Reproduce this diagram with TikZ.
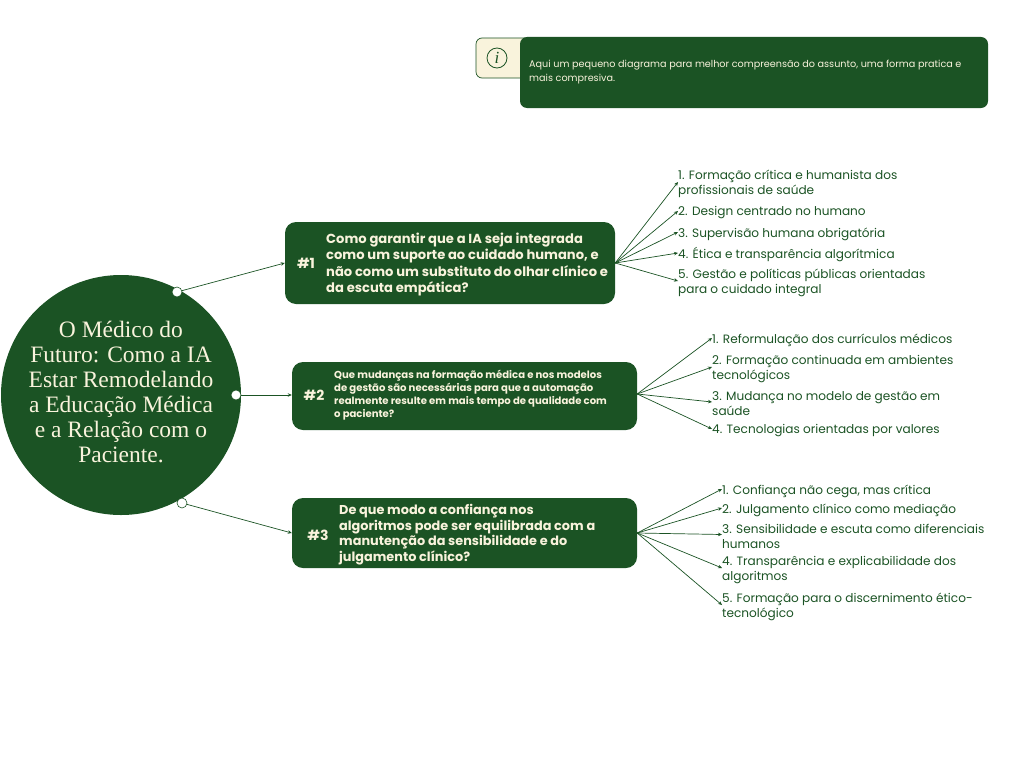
\documentclass[tikz,border=0pt]{standalone}
\usepackage{fontspec}
\setmainfont{Poppins}
\newfontfamily\titlefont{Liberation Serif}
\usetikzlibrary {positioning}
\usetikzlibrary {arrows.meta}
\definecolor{forest}{HTML}{1B5324}
\definecolor{cream}{HTML}{F9F3DC}
\tikzset{
    questionbox/.style={fill=forest, rounded corners=11pt, minimum height=#1, inner sep=0pt},
    questiontext/.style={text=cream, align=left, anchor=west, inner sep=0pt, font=\bfseries\fontsize{13.1}{16.5}\selectfont},
    tagtext/.style={text=cream, anchor=center, inner sep=0pt, font=\bfseries\fontsize{14}{17}\selectfont},
    leaf/.style={text=forest, align=left, anchor=west, inner sep=0pt, font=\fontsize{12.1}{15}\selectfont},
    dot/.style={circle, fill=white, draw=forest, line width=.6pt, minimum size=10pt, inner sep=0pt},
    link/.style={draw=forest, line width=.7pt, -{Stealth[length=4pt,width=3.5pt]}}
}
\begin{document}
\begin{tikzpicture}[x=1pt, y=-1pt]
    \useasboundingbox (0,0) rectangle (1024,768);

    % info note
    \node (notetab) [draw=forest, fill=cream, rounded corners=6pt, line width=.7pt, minimum width=60pt, minimum height=40pt, inner sep=0pt] at (506,58) {};
    \node (notebox) [fill=forest, rounded corners=7pt, minimum width=468pt, minimum height=71pt, inner sep=0pt] at (754,72.5) {};
    \node (noteicon) [circle, draw=forest, line width=.8pt, minimum size=20pt, inner sep=0pt, text=forest, font=\titlefont\itshape\fontsize{17}{17}\selectfont] at (497,58) {i};
    \node (notetext) [text=cream, align=left, anchor=west, inner sep=0pt, font=\fontsize{9.65}{14.5}\selectfont] at (529,72) {Aqui um pequeno diagrama para melhor compreensão do assunto, uma forma pratica e\\mais compresiva.};

    % central topic
    \node (topic) [circle, fill=forest, minimum size=240pt, inner sep=0pt] at (121,395) {};
    \node (topictext) [text=cream, align=center, inner sep=0pt, font=\titlefont\fontsize{23.5}{25}\selectfont] at (121,391.5) {O Médico do\\Futuro: Como a IA\\Estar Remodelando\\a Educação Médica\\e a Relação com o\\Paciente.};
    \node (dot1) [dot] at (177,292) {};
    \node (dot2) [dot] at (236,395) {};
    \node (dot3) [dot] at (182,503) {};

    % questions
    \node (q1) [questionbox=82pt, minimum width=330pt] at (450,263) {};
    \node (q2) [questionbox=68pt, minimum width=345pt] at (464.5,396) {};
    \node (q3) [questionbox=70pt, minimum width=345pt] at (464.5,533) {};

    \node (tag1) [tagtext] at (306,263) {\#1};
    \node (tag2) [tagtext] at (314,395) {\#2};
    \node (tag3) [tagtext] at (318,535) {\#3};

    \node (text1) [questiontext] at (326,264.5) {Como garantir que a IA seja integrada\\como um suporte ao cuidado humano, e\\não como um substituto do olhar clínico e\\da escuta empática?};
    \node (text2) [questiontext, font=\bfseries\fontsize{10.1}{12.8}\selectfont] at (334,395) {Que mudanças na formação médica e nos modelos\\de gestão são necessárias para que a automação\\realmente resulte em mais tempo de qualidade com\\o paciente?};
    \node (text3) [questiontext, font=\bfseries\fontsize{12.85}{15.7}\selectfont] at (339,534.5) {De que modo a confiança nos\\algoritmos pode ser equilibrada com a\\manutenção da sensibilidade e do\\julgamento clínico?};

    % answers
    \node (a1) [leaf] at (678,184) {1. Formação crítica e humanista dos\\profissionais de saúde};
    \node (a2) [leaf] at (678,213) {2. Design centrado no humano};
    \node (a3) [leaf] at (678,234) {3. Supervisão humana obrigatória};
    \node (a4) [leaf] at (678,255) {4. Ética e transparência algorítmica};
    \node (a5) [leaf] at (678,283) {5. Gestão e políticas públicas orientadas\\para o cuidado integral};

    \node (b1) [leaf] at (712,340) {1. Reformulação dos currículos médicos};
    \node (b2) [leaf] at (712,369) {2. Formação continuada em ambientes\\tecnológicos};
    \node (b3) [leaf] at (712,404) {3. Mudança no modelo de gestão em\\saúde};
    \node (b4) [leaf] at (712,431) {4. Tecnologias orientadas por valores};

    \node (c1) [leaf] at (722,491) {1. Confiança não cega, mas crítica};
    \node (c2) [leaf] at (722,510) {2. Julgamento clínico como mediação};
    \node (c3) [leaf] at (722,536.5) {3. Sensibilidade e escuta como diferenciais\\humanos};
    \node (c4) [leaf] at (722,570) {4. Transparência e explicabilidade dos\\algoritmos};
    \node (c5) [leaf] at (722,607) {5. Formação para o discernimento ético-\\tecnológico};

    % connectors
    \draw[link] (dot1) -- (q1.west);
    \draw[link] (dot2) -- ([yshift=1pt]q2.west);
    \draw[link] (dot3) -- (q3.west);
    \foreach \leafname in {a1,a2,a3,a4,a5}
        \draw[link] (q1.east) -- ([yshift=2pt]\leafname.west);
    \foreach \leafname in {b1,b2,b3,b4}
        \draw[link] ([yshift=2pt]q2.east) -- ([yshift=2pt]\leafname.west);
    \foreach \leafname in {c1,c2,c3,c4,c5}
        \draw[link] (q3.east) -- ([yshift=2pt]\leafname.west);
\end{tikzpicture}
\end{document}
